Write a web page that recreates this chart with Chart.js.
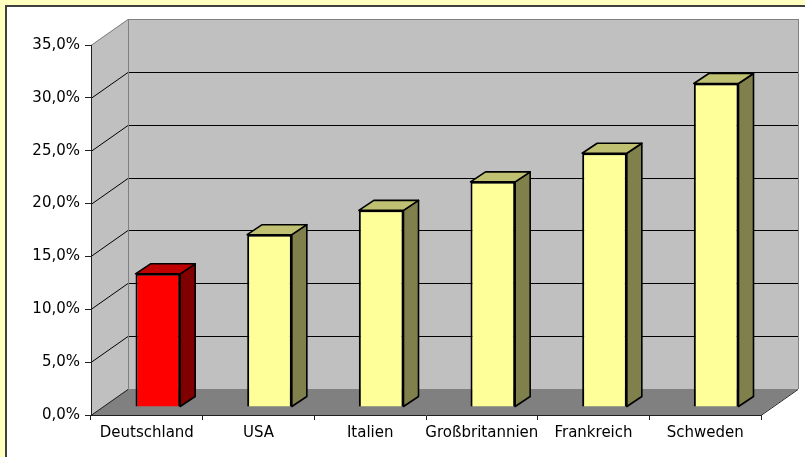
<!DOCTYPE html>
<html>
<head>
<meta charset="utf-8">
<script src="https://cdn.jsdelivr.net/npm/chart.js@4.4.1/dist/chart.umd.min.js"></script>
<style>
    html, body { margin: 0; padding: 0; background: #ffffc0; }
    #wrap { width: 805px; height: 457px; }
</style>
</head>
<body>
<div id="wrap"><canvas id="chart" width="805" height="457"></canvas></div>
<script>
// data
const countries = ["Deutschland", "USA", "Italien", "Großbritannien", "Frankreich", "Schweden"];
const shares = [12.6, 16.3, 18.6, 21.3, 24.0, 30.6];
const frontColors = ["#ff0000", "#ffff99", "#ffff99", "#ffff99", "#ffff99", "#ffff99"];
const topColors = ["#c00000", "#c0c072", "#c0c072", "#c0c072", "#c0c072", "#c0c072"];
const sideColors = ["#800000", "#80804c", "#80804c", "#80804c", "#80804c", "#80804c"];
const yTicks = [0, 5, 10, 15, 20, 25, 30, 35];

// 3d look
const WALL_DX = 37, WALL_DY = -26;   // depth of the floor / back wall
const BAR_DX = 11, BAR_DY = -8;      // bars stand in the middle of the floor
const BAR_DEPTH_X = 15, BAR_DEPTH_Y = -10;

const FONT = "'DejaVu Sans', sans-serif";

function fmt(v) {
    return v.toFixed(1).replace(".", ",") + "%";
}

// Background, walls, floor and gridlines
const wallsPlugin = {
    id: "walls",
    beforeDraw(chart) {
        const ctx = chart.ctx;
        const a = chart.chartArea;
        const y = chart.scales.y;
        ctx.save();
        // page frame
        ctx.fillStyle = "#ffffc0";
        ctx.fillRect(0, 0, chart.width, chart.height);
        ctx.fillStyle = "#ffffff";
        ctx.fillRect(5, 5, chart.width, chart.height);
        ctx.fillStyle = "#404040";
        ctx.fillRect(5, 5, chart.width, 2);
        ctx.fillRect(5, 5, 2, chart.height);

        const l = a.left, r = a.right, t = a.top, b = a.bottom;
        // side wall
        ctx.fillStyle = "#c0c0c0";
        ctx.beginPath();
        ctx.moveTo(l, b);
        ctx.lineTo(l, t);
        ctx.lineTo(l + WALL_DX, t + WALL_DY);
        ctx.lineTo(l + WALL_DX, b + WALL_DY);
        ctx.closePath();
        ctx.fill();
        // back wall
        ctx.fillRect(l + WALL_DX, t + WALL_DY, r - l, b - t);
        // floor
        ctx.fillStyle = "#808080";
        ctx.beginPath();
        ctx.moveTo(l, b);
        ctx.lineTo(r, b);
        ctx.lineTo(r + WALL_DX, b + WALL_DY);
        ctx.lineTo(l + WALL_DX, b + WALL_DY);
        ctx.closePath();
        ctx.fill();

        // gridlines
        ctx.lineWidth = 1;
        yTicks.forEach(function (v) {
            if (v === 0) return;
            const py = Math.round(y.getPixelForValue(v)) + 0.5;
            ctx.strokeStyle = v === 35 ? "#808080" : "#000000";
            ctx.beginPath();
            ctx.moveTo(l, py);
            ctx.lineTo(l + WALL_DX, py + WALL_DY);
            ctx.lineTo(r + WALL_DX, py + WALL_DY);
            ctx.stroke();
        });

        // wall edges
        ctx.strokeStyle = "#808080";
        ctx.beginPath();
        ctx.moveTo(l + WALL_DX + 0.5, t + WALL_DY);
        ctx.lineTo(l + WALL_DX + 0.5, b + WALL_DY);
        ctx.moveTo(r + WALL_DX + 0.5, t + WALL_DY);
        ctx.lineTo(r + WALL_DX + 0.5, b + WALL_DY);
        ctx.stroke();
        ctx.strokeStyle = "#202020";
        ctx.beginPath();
        ctx.moveTo(l, b + 0.5);
        ctx.lineTo(l + WALL_DX, b + WALL_DY + 0.5);
        ctx.moveTo(r, b + 0.5);
        ctx.lineTo(r + WALL_DX, b + WALL_DY + 0.5);
        ctx.stroke();
        ctx.restore();
    }
};

// Top and side faces of the bars, bars shifted into the depth
const bars3dPlugin = {
    id: "bars3d",
    beforeDatasetsDraw(chart) {
        const ctx = chart.ctx;
        ctx.save();
        ctx.translate(BAR_DX, BAR_DY);
        const meta = chart.getDatasetMeta(0);
        meta.data.forEach(function (el, i) {
            const p = el.getProps(["x", "y", "base", "width"], true);
            const left = p.x - p.width / 2, right = p.x + p.width / 2;
            ctx.lineWidth = 1.6;
            ctx.strokeStyle = "#000000";
            ctx.lineJoin = "round";
            // side
            ctx.fillStyle = sideColors[i];
            ctx.beginPath();
            ctx.moveTo(right, p.y);
            ctx.lineTo(right + BAR_DEPTH_X, p.y + BAR_DEPTH_Y);
            ctx.lineTo(right + BAR_DEPTH_X, p.base + BAR_DEPTH_Y);
            ctx.lineTo(right, p.base);
            ctx.closePath();
            ctx.fill();
            ctx.stroke();
            // top
            ctx.fillStyle = topColors[i];
            ctx.beginPath();
            ctx.moveTo(left, p.y);
            ctx.lineTo(left + BAR_DEPTH_X, p.y + BAR_DEPTH_Y);
            ctx.lineTo(right + BAR_DEPTH_X, p.y + BAR_DEPTH_Y);
            ctx.lineTo(right, p.y);
            ctx.closePath();
            ctx.fill();
            ctx.stroke();
        });
    },
    afterDatasetsDraw(chart) {
        chart.ctx.restore();
    }
};

window.addEventListener("load", function () {
    const canvas = document.getElementById("chart");
    new Chart(canvas, {
        type: "bar",
        data: {
            labels: countries,
            datasets: [{
                data: shares,
                backgroundColor: frontColors,
                borderColor: "#000000",
                borderWidth: 2,
                barPercentage: 0.4,
                categoryPercentage: 1.0
            }]
        },
        options: {
            responsive: false,
            animation: false,
            layout: {
                padding: { left: 0, top: 45, right: 44, bottom: 0 }
            },
            plugins: {
                legend: { display: false },
                tooltip: { enabled: false }
            },
            scales: {
                x: {
                    grid: {
                        drawOnChartArea: false,
                        tickLength: 5,
                        color: "#202020"
                    },
                    border: { color: "#202020" },
                    ticks: {
                        color: "#000000",
                        font: { family: FONT, size: 15 },
                        padding: 4,
                        maxRotation: 0,
                        autoSkip: false
                    },
                    afterFit(scale) { scale.height = 42; }
                },
                y: {
                    min: 0,
                    max: 35,
                    grid: {
                        drawOnChartArea: false,
                        tickLength: 6,
                        color: "#202020"
                    },
                    border: { color: "#202020" },
                    ticks: {
                        stepSize: 5,
                        color: "#000000",
                        font: { family: FONT, size: 15 },
                        padding: 5,
                        callback: function (v) { return fmt(v); }
                    },
                    afterFit(scale) { scale.width = 91; }
                }
            }
        },
        plugins: [wallsPlugin, bars3dPlugin]
    });
});
</script>
</body>
</html>
